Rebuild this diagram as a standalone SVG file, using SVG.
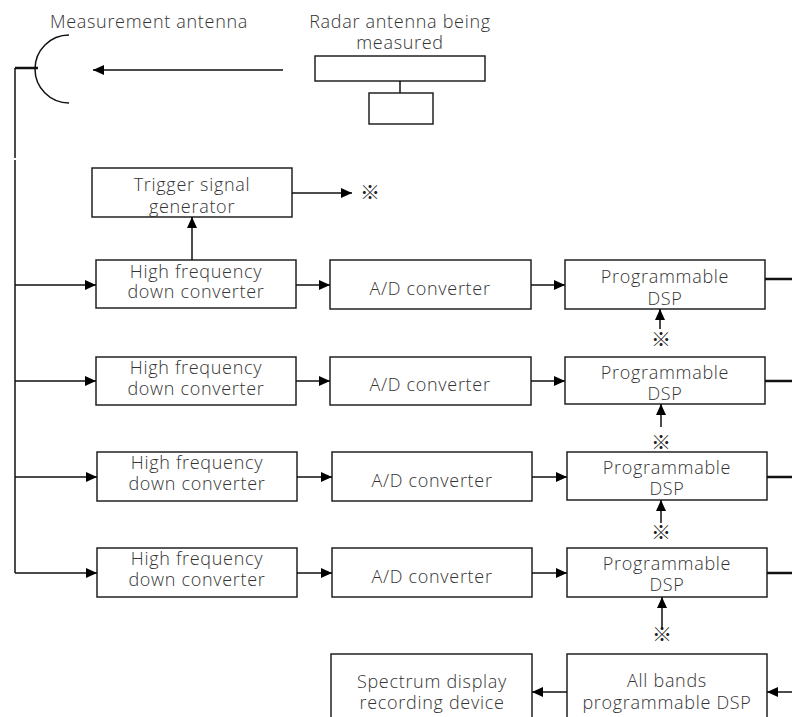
<svg xmlns="http://www.w3.org/2000/svg" width="792" height="717" viewBox="0 0 792 717">
<style>
.box{fill:#fff;stroke:#222;stroke-width:1.5}
.ln{fill:none;stroke:#111;stroke-width:1.5}
.thk{fill:none;stroke:#111;stroke-width:2.5}
text{font-family:"Open Sans","Liberation Sans",sans-serif;font-size:18px;font-weight:300;letter-spacing:0.7px;fill:#333;text-anchor:middle}
.ref{font-family:"Noto Sans CJK JP","DejaVu Sans",sans-serif;font-size:20px;font-weight:400;letter-spacing:0;fill:#222}
</style>
<defs>
<marker id="ah" markerUnits="userSpaceOnUse" markerWidth="11" markerHeight="10" viewBox="0 0 11 10" refX="11" refY="5" orient="auto">
<path d="M0,0 L11,5 L0,10 Z" fill="#000"/>
</marker>
</defs>
<rect width="792" height="717" fill="#fff"/>

<g id="measurement-antenna">
<text x="149" y="28">Measurement antenna</text>
<path class="ln" d="M69,35 A34,34 0 0 0 69,103"/>
</g>

<g id="radar-antenna">
<text x="400" y="28">Radar antenna being</text>
<text x="400" y="49">measured</text>
<rect class="box" x="315" y="56" width="170" height="25"/>
<line class="ln" x1="400" y1="81" x2="400" y2="93"/>
<rect class="box" x="369" y="93" width="64" height="31"/>
</g>

<g id="trigger">
<rect class="box" x="92" y="168" width="200" height="49"/>
<text x="192" y="191">Trigger signal</text>
<text x="192" y="213">generator</text>
</g>
<text class="ref" x="370" y="200">※</text>

<g id="hf1"><rect class="box" x="96" y="260" width="200" height="48"/><text x="196" y="278">High frequency</text><text x="196" y="298">down converter</text></g>
<g id="hf2"><rect class="box" x="96" y="357" width="200" height="48"/><text x="196" y="374">High frequency</text><text x="196" y="395">down converter</text></g>
<g id="hf3"><rect class="box" x="97" y="452" width="200" height="49"/><text x="197" y="469">High frequency</text><text x="197" y="490">down converter</text></g>
<g id="hf4"><rect class="box" x="97" y="548" width="200" height="49"/><text x="197" y="565">High frequency</text><text x="197" y="586">down converter</text></g>

<g id="ad1"><rect class="box" x="330" y="260" width="201" height="49"/><text x="430" y="295">A/D converter</text></g>
<g id="ad2"><rect class="box" x="330" y="357" width="201" height="48"/><text x="430" y="391">A/D converter</text></g>
<g id="ad3"><rect class="box" x="332" y="452" width="200" height="49"/><text x="432" y="487">A/D converter</text></g>
<g id="ad4"><rect class="box" x="332" y="548" width="200" height="49"/><text x="432" y="583">A/D converter</text></g>

<g id="dsp1"><rect class="box" x="565" y="260" width="200" height="49"/><text x="665" y="283">Programmable</text><text x="665" y="305">DSP</text></g>
<g id="dsp2"><rect class="box" x="565" y="357" width="200" height="47"/><text x="665" y="379">Programmable</text><text x="665" y="400">DSP</text></g>
<g id="dsp3"><rect class="box" x="567" y="452" width="200" height="48"/><text x="667" y="474">Programmable</text><text x="667" y="495">DSP</text></g>
<g id="dsp4"><rect class="box" x="567" y="548" width="200" height="49"/><text x="667" y="570">Programmable</text><text x="667" y="591">DSP</text></g>

<g id="spectrum"><rect class="box" x="331" y="654" width="201" height="70"/><text x="432" y="688">Spectrum display</text><text x="432" y="709">recording device</text></g>
<g id="allbands"><rect class="box" x="567" y="654" width="200" height="70"/><text x="667" y="687">All bands</text><text x="667" y="709">programmable DSP</text></g>

<g id="refmarks">
<text class="ref" x="661" y="347">※</text>
<text class="ref" x="661" y="450">※</text>
<text class="ref" x="661" y="540">※</text>
<text class="ref" x="662" y="642">※</text>
</g>

<g id="connectors">
<line class="thk" x1="15" y1="68" x2="38" y2="68"/>
<line class="ln" x1="15" y1="68" x2="15" y2="158"/>
<line class="ln" x1="15" y1="160" x2="15" y2="573"/>
<line class="ln" x1="283" y1="70" x2="93" y2="70" marker-end="url(#ah)"/>
<line class="ln" x1="192" y1="260" x2="192" y2="217" marker-end="url(#ah)"/>
<line class="ln" x1="292" y1="193" x2="352" y2="193" marker-end="url(#ah)"/>

<line class="ln" x1="15" y1="285" x2="96" y2="285" marker-end="url(#ah)"/>
<line class="ln" x1="15" y1="381" x2="96" y2="381" marker-end="url(#ah)"/>
<line class="ln" x1="15" y1="477" x2="97" y2="477" marker-end="url(#ah)"/>
<line class="ln" x1="15" y1="573" x2="97" y2="573" marker-end="url(#ah)"/>

<line class="ln" x1="296" y1="285" x2="330" y2="285" marker-end="url(#ah)"/>
<line class="ln" x1="296" y1="381" x2="330" y2="381" marker-end="url(#ah)"/>
<line class="ln" x1="297" y1="477" x2="332" y2="477" marker-end="url(#ah)"/>
<line class="ln" x1="297" y1="573" x2="332" y2="573" marker-end="url(#ah)"/>

<line class="ln" x1="531" y1="285" x2="565" y2="285" marker-end="url(#ah)"/>
<line class="ln" x1="531" y1="381" x2="565" y2="381" marker-end="url(#ah)"/>
<line class="ln" x1="532" y1="477" x2="567" y2="477" marker-end="url(#ah)"/>
<line class="ln" x1="532" y1="573" x2="567" y2="573" marker-end="url(#ah)"/>

<line class="thk" x1="765" y1="279" x2="792" y2="279"/>
<line class="thk" x1="765" y1="381" x2="792" y2="381"/>
<line class="thk" x1="767" y1="477" x2="792" y2="477"/>
<line class="thk" x1="767" y1="573" x2="792" y2="573"/>

<line class="ln" x1="660" y1="329" x2="660" y2="309" marker-end="url(#ah)"/>
<line class="ln" x1="661" y1="427" x2="661" y2="404" marker-end="url(#ah)"/>
<line class="ln" x1="661" y1="523" x2="661" y2="500" marker-end="url(#ah)"/>
<line class="ln" x1="662" y1="628" x2="662" y2="597" marker-end="url(#ah)"/>

<line class="ln" x1="567" y1="692" x2="532" y2="692" marker-end="url(#ah)"/>
<line class="ln" x1="792" y1="692" x2="767" y2="692" marker-end="url(#ah)"/>
</g>
</svg>
